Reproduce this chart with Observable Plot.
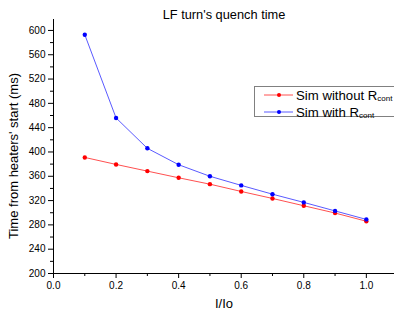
<!DOCTYPE html>
<html><head><meta charset="utf-8">
<script src="https://cdn.jsdelivr.net/npm/d3@7"></script>
<script src="https://cdn.jsdelivr.net/npm/@observablehq/plot@0.6"></script>
<style>
body{margin:0;background:#fff}
#c{position:relative;width:394px;height:311px;overflow:hidden;font-family:"Liberation Sans",Arial,sans-serif}
#legend{position:absolute;left:254px;top:86px;width:170px;height:31px;border:1px solid #808080;background:#fff;box-sizing:border-box}
.row{position:absolute;left:0;height:16px;display:flex;align-items:center;font-size:13.2px;color:#000;white-space:nowrap}
.row svg{margin-left:9px;margin-right:3px}
.row sub{font-size:8px;vertical-align:baseline;position:relative;top:1px}
#ylab{position:absolute;left:13px;top:156px;transform:translate(-50%,-50%) rotate(-90deg);white-space:nowrap;font-size:13px;color:#000;line-height:1}
</style></head>
<body>
<div id="c"></div>
<script>
const ratio = [0.1,0.2,0.3,0.4,0.5,0.6,0.7,0.8,0.9,1.0];
const simWithout = [391,379.5,368.5,357.5,347,335,323.5,311.5,299.5,286];
const simWith = [593,456,406,379,360,345,330.5,317,303,289];
const seriesNames = ["Sim without R", "Sim with R"];
const seriesColors = ["#ff0000", "#0000ff"];
const lineColors = ["#ff5050", "#5a5aff"];
const yMajor = [200,240,280,320,360,400,440,480,520,560,600];
const yMinor = [220,260,300,340,380,420,460,500,540,580];
const xMajor = [0.0,0.2,0.4,0.6,0.8,1.0];
const xMinor = [0.1,0.3,0.5,0.7,0.9];
const titleText = "LF turn's quench time";
const yLabel = "Time from heaters' start (ms)";
const xLabel = "I/Io";

const data = [
  ...ratio.map((x,i)=>({x, y: simWithout[i], s: seriesNames[0]})),
  ...ratio.map((x,i)=>({x, y: simWith[i], s: seriesNames[1]}))
];

const font = "Liberation Sans, Arial, sans-serif";
const chart = Plot.plot({
  width: 394, height: 311,
  marginLeft: 53, marginRight: 0, marginTop: 19, marginBottom: 38,
  style: {fontFamily: font, background: "#fff", color: "#000"},
  x: {domain: [0, 1.09]},
  y: {domain: [200, 618]},
  color: {domain: seriesNames, range: seriesColors},
  marks: [
    Plot.axisX({ticks: xMajor, tickSize: 5, tickPadding: 3, tickFormat: d3.format(".1f"), fontSize: 10, label: null, stroke: "#000"}),
    Plot.axisX({ticks: xMinor, tickSize: 3, tickFormat: () => "", label: null, stroke: "#000"}),
    Plot.axisY({ticks: yMajor, tickSize: 5, tickPadding: 3, tickFormat: d3.format("d"), fontSize: 10, label: null, stroke: "#000"}),
    Plot.axisY({ticks: yMinor, tickSize: 3, tickFormat: () => "", label: null, stroke: "#000"}),
    Plot.ruleX([0], {stroke: "#000", strokeWidth: 1}),
    Plot.ruleY([200], {stroke: "#000", strokeWidth: 1}),
    Plot.line(data.filter(d=>d.s===seriesNames[0]), {x: "x", y: "y", stroke: lineColors[0], strokeWidth: 1}),
    Plot.line(data.filter(d=>d.s===seriesNames[1]), {x: "x", y: "y", stroke: lineColors[1], strokeWidth: 1}),
    Plot.dot(data, {x: "x", y: "y", fill: "s", r: 2.2, stroke: null}),
    Plot.text([titleText], {frameAnchor: "top", lineAnchor: "bottom", dy: -1, fontSize: 12.8, fill: "#000"}),
    Plot.text([xLabel], {frameAnchor: "bottom", lineAnchor: "bottom", dy: 34, fontSize: 13, fill: "#000"})
  ]
});
const c = document.getElementById("c");
c.appendChild(chart);

const yl = document.createElement("div");
yl.id = "ylab";
yl.textContent = yLabel;
c.appendChild(yl);

const legend = document.createElement("div");
legend.id = "legend";
seriesNames.forEach((name, i) => {
  const row = document.createElement("div");
  row.className = "row";
  row.style.top = (i === 0 ? 0 : 17) + "px";
  row.innerHTML = `<svg width="29" height="6"><line x1="0" y1="3" x2="29" y2="3" stroke="${lineColors[i]}" stroke-width="1"/><circle cx="15" cy="3" r="2" fill="${seriesColors[i]}"/></svg><span>${name}<sub>cont</sub></span>`;
  legend.appendChild(row);
});
c.appendChild(legend);
</script>
</body></html>
